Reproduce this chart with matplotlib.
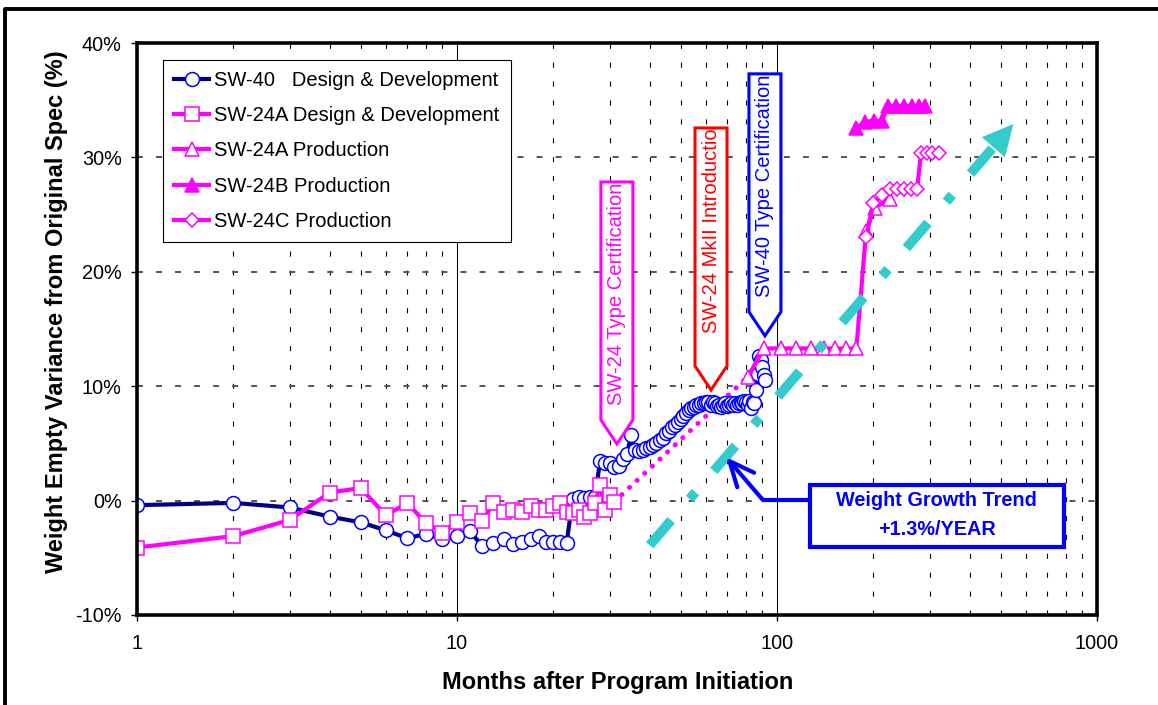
import matplotlib
matplotlib.use("Agg")
import numpy as np
import matplotlib.pyplot as plt
import matplotlib.ticker as mticker
from matplotlib.lines import Line2D
from matplotlib.patches import Polygon, Rectangle, FancyArrowPatch
from matplotlib.transforms import Affine2D, Bbox, IdentityTransform

plt.rcParams['font.family'] = ['Liberation Sans', 'DejaVu Sans']
plt.rcParams['lines.scale_dashes'] = False

# === data (months after initiation, % variance from original spec) ===
sw40_months = list(range(1, 93))
sw40_var = [
    -0.4, -0.2, -0.6, -1.4, -1.9, -2.6, -3.3, -2.9, -3.4, -3.1,   # 1-10
    -2.7, -4.0, -3.7, -3.4, -3.8, -3.6, -3.4, -3.1, -3.6, -3.6,   # 11-20
    -3.6, -3.7, 0.1, 0.3, 0.2, 0.3, 0.3, 3.5, 3.3, 3.3,           # 21-30
    2.9, 3.0, 3.6, 4.1, 5.7, 4.4, 4.3, 4.4, 4.6, 4.7,             # 31-40
    4.9, 5.0, 5.3, 5.5, 5.9, 6.1, 6.4, 6.6, 6.9, 7.1,             # 41-50
    7.4, 7.7, 7.9, 8.1, 8.2, 8.4, 8.4, 8.5, 8.5, 8.6,             # 51-60
    8.6, 8.4, 8.6, 8.5, 8.3, 8.4, 8.2, 8.4, 8.5, 8.3,             # 61-70
    8.4, 8.5, 8.4, 8.5, 8.4, 8.5, 8.6, 8.5, 8.7, 8.6,             # 71-80
    8.4, 8.7, 8.1, 8.6, 8.5, 9.7, 11.1, 12.6, 12.3, 11.7,         # 81-90
    11.0, 10.5,                                                    # 91-92
]

sw24a_dev_months = list(range(1, 32))
sw24a_dev_var = [
    -4.1, -3.1, -1.7, 0.7, 1.1, -1.3, -0.2, -2.0, -2.8, -1.9,     # 1-10
    -1.1, -1.8, -0.2, -1.0, -0.8, -1.0, -0.5, -0.8, -0.8, -0.5,   # 11-20
    -0.2, -1.0, -1.1, -0.8, -1.4, -1.1, -0.2, 1.4, -0.8, 0.5,     # 21-30
    -0.1,                                                          # 31
]

sw24a_prod_months = [81, 91, 103, 115, 128, 140, 152, 164, 177, 190, 202, 226]
sw24a_prod_var = [10.8, 13.3, 13.3, 13.3, 13.3, 13.3, 13.3, 13.3, 13.3, 23.6, 25.6, 26.4]

sw24b_prod_months = [177, 188, 201, 213, 222, 235, 249, 264, 277, 290]
sw24b_prod_var = [32.6, 33.1, 33.2, 33.2, 34.5, 34.5, 34.5, 34.5, 34.5, 34.5]

sw24c_prod_months = [190, 200, 213, 225, 237, 250, 262, 274, 282, 294, 306, 320]
sw24c_prod_var = [23.0, 26.0, 26.7, 27.2, 27.2, 27.2, 27.2, 27.2, 30.4, 30.4, 30.4, 30.4]

trend_months = [40, 555]
trend_var = [-3.9, 33.1]

# milestone callouts: (month, %, label, colour, text lift in px)
milestones = [
    (31.6, 4.95, 'SW-24 Type Certification', '#FF00FF', 39),
    (62.2, 9.67, 'SW-24 MkII Introduction', '#FF0000', 57),
    (91.7, 14.4, 'SW-40 Type Certification', '#0000FF', 39),
]

MAGENTA = '#FF00FF'
NAVY = '#000080'
BLUE = '#0000FF'
CYAN = '#33CCCC'

W, H = 1158, 705
fig = plt.figure(figsize=(W / 100, H / 100), dpi=100)
ax = fig.add_axes([137 / W, 90 / H, 960 / W, 572 / H])

ax.set_xscale('log')
ax.set_xlim(1, 1000)
ax.set_ylim(-10, 40)

# === grid ===
ax.set_axisbelow(True)
ax.xaxis.set_major_locator(mticker.FixedLocator([1, 10, 100, 1000]))
ax.xaxis.set_major_formatter(mticker.FuncFormatter(lambda v, p: f"{v:.0f}"))
ax.xaxis.set_minor_locator(mticker.LogLocator(base=10, subs=range(2, 10)))
ax.xaxis.set_minor_formatter(mticker.NullFormatter())
ax.yaxis.set_major_locator(mticker.MultipleLocator(10))
ax.yaxis.set_major_formatter(mticker.FuncFormatter(lambda v, p: f"{v:.0f}%"))
ax.grid(which='major', axis='x', color='black', lw=0.75, linestyle='-')
ax.grid(which='minor', axis='x', color='black', lw=0.8, linestyle=(0, (3.6, 10)))
ax.grid(which='major', axis='y', color='#555555', lw=1.4, linestyle=(0, (4.3, 9.4)))

ax.tick_params(axis='both', which='major', direction='out', length=4, width=1,
               labelsize=14.3, pad=7)
ax.tick_params(axis='x', which='major', pad=10)
ax.tick_params(axis='x', which='minor', length=0)
for s in ax.spines.values():
    s.set_linewidth(2.6)
    s.set_zorder(8)

# === series ===
ax.plot(sw24a_dev_months[-1:] + sw24a_prod_months[:1],
        sw24a_dev_var[-1:] + sw24a_prod_var[:1],
        color=MAGENTA, lw=3.6, linestyle=(0, (0.1, 7.4)),
        dash_capstyle='round', zorder=2)

ax.plot(sw40_months, sw40_var, color=NAVY, lw=3, marker='o', ms=10,
        mfc='white', mec=BLUE, mew=1.1, zorder=3,
        label='SW-40   Design & Development')
ax.plot(sw24a_dev_months, sw24a_dev_var, color=MAGENTA, lw=3, marker='s', ms=10.5,
        mfc='white', mec=MAGENTA, mew=1.1, zorder=4,
        label='SW-24A Design & Development')
ax.plot(sw24a_prod_months, sw24a_prod_var, color=MAGENTA, lw=3, marker='^', ms=10,
        mfc='white', mec=MAGENTA, mew=1.1, zorder=4,
        label='SW-24A Production')
ax.plot(sw24b_prod_months, sw24b_prod_var, color=MAGENTA, lw=3, marker='^', ms=10,
        mfc=MAGENTA, mec=MAGENTA, mew=1.1, zorder=4,
        label='SW-24B Production')
ax.plot(sw24c_prod_months, sw24c_prod_var, color=MAGENTA, lw=3, marker='D', ms=7,
        mfc='white', mec=MAGENTA, mew=1.1, zorder=4,
        label='SW-24C Production')

# === trend line with arrow head ===
lx = np.log10(trend_months)
frac = 0.946
base_x = 10 ** (lx[0] + frac * (lx[1] - lx[0]))
base_y = trend_var[0] + frac * (trend_var[1] - trend_var[0])
ax.plot([trend_months[0], base_x], [trend_var[0], base_y], color=CYAN, lw=7,
        linestyle=(0, (23.8, 20.2, 6.5, 20.2)), dash_capstyle='butt', zorder=5)
ax.add_patch(FancyArrowPatch((base_x, base_y), (trend_months[1], trend_var[1]),
                             arrowstyle='-|>,head_length=1.0,head_width=0.5',
                             mutation_scale=22, color=CYAN, lw=0, zorder=5))

# === trend text box and pointer ===
ax.add_patch(Rectangle((126.8, -4.06), 661.2, 5.42, facecolor='white',
                       edgecolor=BLUE, lw=3, zorder=6))
ax.text(316, -0.03, 'Weight Growth Trend', ha='center', va='center',
        color=BLUE, fontsize=14.3, fontweight='bold', zorder=7)
ax.text(316, -2.5, '+1.3%/YEAR', ha='center', va='center',
        color=BLUE, fontsize=14.3, fontweight='bold', zorder=7)
ax.plot([125, 90.4], [0.05, 0.05], color=BLUE, lw=3, zorder=6,
        solid_capstyle='butt')
ax.annotate('', xy=(69.3, 3.8), xytext=(90.4, 0.05),
            arrowprops=dict(arrowstyle='->,head_length=0.9,head_width=0.4',
                            color=BLUE, lw=3, shrinkA=0, shrinkB=0,
                            mutation_scale=20),
            zorder=6)

# === milestone callouts ===
for mx, my, label, col, lift in milestones:
    tx, ty = ax.transData.transform((mx, my))
    shape = [(0, 0), (-16, 24), (-16, 262), (16, 262), (16, 24)]
    poly = Polygon(shape, closed=True, facecolor='white', edgecolor=col, lw=2.2,
                   transform=Affine2D().translate(tx, ty), zorder=6)
    poly.set_joinstyle('miter')
    ax.add_patch(poly)
    t = ax.text(tx, ty + lift, label, transform=IdentityTransform(), rotation=90,
                rotation_mode='anchor', ha='left', va='center', color=col,
                fontsize=14.5, zorder=7)
    t.set_clip_on(True)
    t.set_clip_box(Bbox([[tx - 16, ty + 24], [tx + 16, ty + 260]]))

# === legend ===
leg = ax.legend(loc='upper left', bbox_to_anchor=(0.027, 0.970), borderaxespad=0,
                fontsize=14.5, frameon=True, fancybox=False, framealpha=1,
                edgecolor='black', borderpad=0.55, labelspacing=0.8,
                handlelength=1.75, handletextpad=0.25, numpoints=1)
leg.get_frame().set_linewidth(0.8)
leg.set_zorder(9)

# === axis titles ===
fig.text(57 / W, 1 - 312 / H, 'Weight Empty Variance from Original Spec (%)',
         rotation=90, ha='center', va='center', fontsize=17, fontweight='bold')
fig.text(617.5 / W, 1 - 682 / H, 'Months after Program Initiation',
         ha='center', va='center', fontsize=17, fontweight='bold')

# outer chart frame (left and top edges)
fig.add_artist(Line2D([5 / W, 5 / W, 1.01], [-0.01, 1 - 9 / H, 1 - 9 / H],
                      transform=fig.transFigure, color='black', lw=2.8))

fig.savefig('out.png', dpi=100)
